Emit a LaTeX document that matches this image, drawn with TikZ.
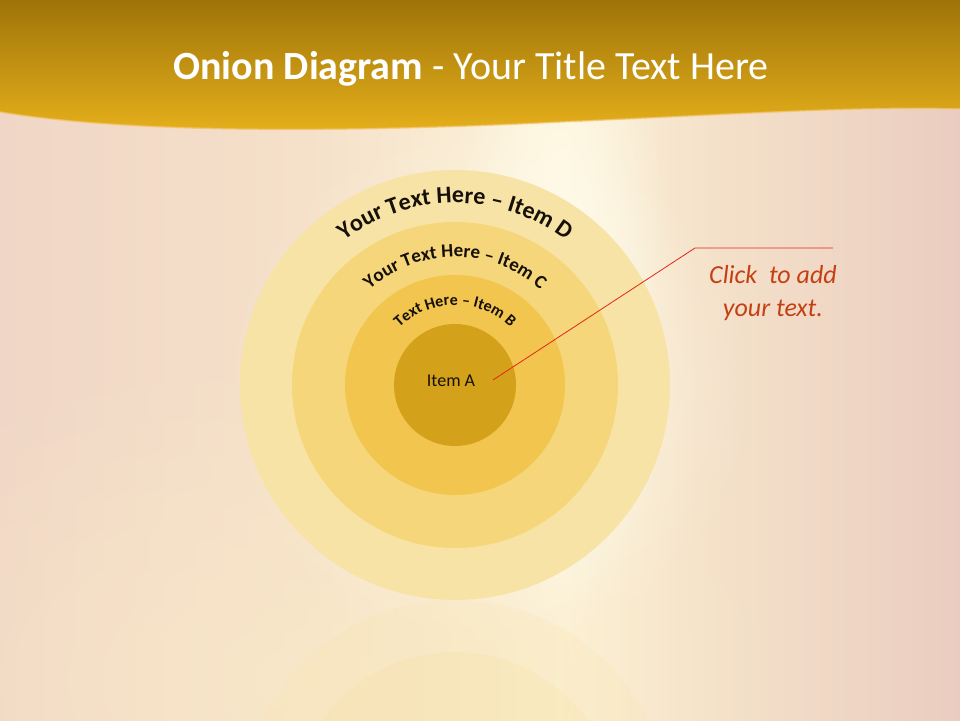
\documentclass[tikz,border=0pt]{standalone}
\usepackage{fontspec}
\setmainfont{Carlito}
\usetikzlibrary{calc,positioning,decorations.text,fadings}
\definecolor{hdrdark}{RGB}{158,116,8}
\definecolor{hdrlight}{RGB}{232,178,28}
\definecolor{hdredge}{RGB}{244,196,110}
\definecolor{bgleft}{RGB}{240,214,198}
\definecolor{bgwarm}{RGB}{245,224,201}
\definecolor{bgmid}{RGB}{253,244,218}
\definecolor{bgwarmr}{RGB}{245,226,202}
\definecolor{bgright}{RGB}{234,205,192}
\definecolor{bgyellow}{RGB}{250,234,200}
\definecolor{glowcol}{RGB}{255,252,236}
\definecolor{ringD}{RGB}{248,227,166}
\definecolor{ringC}{RGB}{245,214,122}
\definecolor{ringB}{RGB}{242,198,78}
\definecolor{ringA}{RGB}{212,162,26}
\definecolor{calloutred}{RGB}{226,38,24}
\definecolor{callouttxt}{RGB}{196,64,20}
\definecolor{ringtxt}{RGB}{22,16,8}
\tikzfading[name=glowfade, inner color=transparent!0, outer color=transparent!100]
\pgfdeclarehorizontalshading{bgshade}{100bp}{color(0bp)=(bgleft); color(25bp)=(bgleft);
  color(40.6bp)=(bgwarm); color(54.2bp)=(bgmid); color(61.5bp)=(bgwarmr);
  color(75bp)=(bgright); color(100bp)=(bgright)}

\begin{document}
\begin{tikzpicture}[x=1pt,y=1pt,
  ring/.style={circle, inner sep=0pt, draw=none},
  arctext/.style={decorate, decoration={text along path, text align=center,
      text color=ringtxt, text={#1}}}]
  \useasboundingbox (0,0) rectangle (960,720);
  % Background
  \shade[shading=bgshade] (0,0) rectangle (960,720);
  \fill[bgyellow, opacity=0.7, path fading=glowfade] (300,40) ellipse [x radius=520, y radius=340];
  \fill[glowcol, path fading=glowfade] (562,420) ellipse [x radius=110, y radius=340];
  \fill[glowcol, opacity=0.6, path fading=glowfade] (490,335) circle [radius=270];
  % Reflection
  \begin{scope}
    \clip (0,0) rectangle (960,720);
    \fill[ringD, opacity=0.18] (455,-95) circle [radius=215];
    \fill[ringC, opacity=0.12] (455,-95) circle [radius=163];
  \end{scope}
  % Header band
  \shade[top color=hdrdark, bottom color=hdrlight] (0,720) -- (960,720) -- (960,611)
    .. controls (860,614) and (740,606) .. (560,598)
    .. controls (400,590) and (150,583) .. (0,608) -- cycle;
  \draw[hdredge, line width=1.5, opacity=0.7] (960,611)
    .. controls (860,614) and (740,606) .. (560,598)
    .. controls (400,590) and (150,583) .. (0,608);
  \node[text=white, font=\fontsize{40}{46}\selectfont] (title) at (471,651)
    {\textbf{Onion Diagram} - Your Title Text Here};
  % Rings
  \coordinate (c) at (455,335);
  \foreach \n/\d in {D/430,C/326,B/220,A/122}{
    \node[ring, fill=ring\n, minimum size=\d pt] (ring\n) at (c) {};
  }
  \node[text=ringtxt, font=\fontsize{18}{21}\selectfont] (itemA) at (451,339) {Item A};
  \path[arctext={|\bfseries\fontsize{24}{28}\selectfont|Your Text Here – Item D}]
    ($(c)+(150:182)$) arc [start angle=150, end angle=30, radius=182];
  \path[arctext={|\bfseries\fontsize{19}{22}\selectfont|Your Text Here – Item C}]
    ($(c)+(150:128)$) arc [start angle=150, end angle=30, radius=128];
  \path[arctext={|\bfseries\fontsize{16}{19}\selectfont|Text Here – Item B}]
    ($(c)+(150:80)$) arc [start angle=150, end angle=30, radius=80];
  % Callout
  \coordinate (tip) at (493,340);
  \coordinate (elbow) at (695,472);
  \coordinate (lineend) at (833,472);
  \draw[calloutred, line width=0.8] (tip) -- (elbow) -- (lineend);
  \node[align=center, text=callouttxt, font=\itshape\fontsize{26}{33}\selectfont]
    (callout) at (773,427) {Click\ \ to add\\your text.};
\end{tikzpicture}
\end{document}
